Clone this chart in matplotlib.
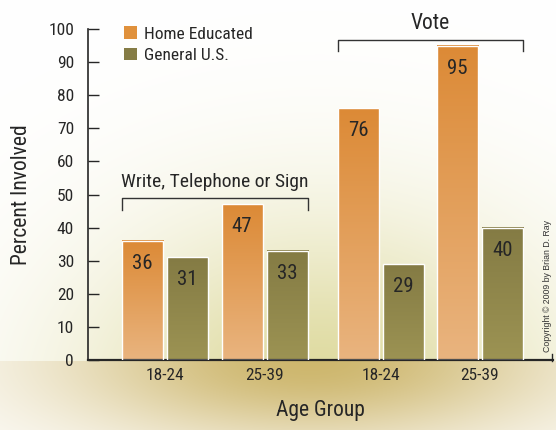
import numpy as np
import matplotlib
matplotlib.use('Agg')
import matplotlib.pyplot as plt
from matplotlib import font_manager as fm
from matplotlib.colors import to_rgb
from matplotlib.patches import Patch

# ---- data ----
group_names = ['Write, Telephone or Sign', 'Vote']
age_labels = ['18-24', '25-39', '18-24', '25-39']
home_educated = [36, 47, 76, 95]
general_us = [31, 33, 29, 40]
series_names = ['Home Educated', 'General U.S.']
yticks = [0, 10, 20, 30, 40, 50, 60, 70, 80, 90, 100]

# ---- pick a condensed font if one is installed ----
def pick_condensed():
    prefs = ['liberationsansnarrow-regular', 'robotocondensed-regular',
             'dejavusanscondensed.ttf', 'opensanscondensed']
    files = fm.fontManager.ttflist
    for p in prefs:
        for f in files:
            if p in f.fname.lower().replace(' ', '').replace('_', ''):
                return f.name, f.stretch
    for f in files:
        fn = f.fname.lower()
        if ('condensed' in fn or 'narrow' in fn) and 'bold' not in fn \
                and 'italic' not in fn and 'oblique' not in fn and 'light' not in fn:
            return f.name, f.stretch
    return 'DejaVu Sans', 'condensed'


fam, stretch = pick_condensed()
plt.rcParams['font.family'] = [fam, 'DejaVu Sans']
plt.rcParams['font.stretch'] = stretch
TXT = '#262626'

W, H = 556, 430
fig = plt.figure(figsize=(W / 100, H / 100), dpi=100)

# ---- background glow ----
bg = fig.add_axes([0, 0, 1, 1], zorder=-10)
yy, xx = np.mgrid[0:H, 0:W] + 0.5
white = np.array([1.0, 1.0, 1.0])
c_up = np.array(to_rgb('#DEDA9E'))
c_dn = np.array(to_rgb('#CDB66C'))
d_up = ((xx - 320) / 300) ** 2 + ((yy - 400) / 230) ** 2
t_up = np.clip(np.exp(-1.6 * d_up), 0, 1)
d_dn = ((xx - 310) / 290) ** 2 + ((yy - 362) / 95) ** 2
t_dn = np.clip(np.exp(-1.3 * d_dn), 0, 1)
img = np.empty((H, W, 3))
above = yy < 361
img[above] = white * (1 - t_up[above][:, None]) + c_up * t_up[above][:, None]
img[~above] = white * (1 - t_dn[~above][:, None]) + c_dn * t_dn[~above][:, None]
band = ~above
img[band] = img[band] * 0.97 + np.array(to_rgb('#E9DDB6')) * 0.03
bg.imshow(img, extent=[0, W, H, 0], aspect='auto', interpolation='bilinear')
bg.set_xlim(0, W)
bg.set_ylim(H, 0)
bg.axis('off')

# ---- main axes ----
ax = fig.add_axes([88 / W, (H - 360) / H, (553 - 88) / W, 331 / H])
ax.set_facecolor('none')
centers = np.array([0.0, 2.43, 5.27, 7.68])
off = 0.55
bw = 1.0

orange_top, orange_bot = '#DC8A36', '#E9B47F'
olive_top, olive_bot = '#847B44', '#9C9353'


def gradient_bars(xs, vals, ctop, cbot):
    bars = ax.bar(xs, vals, width=bw, facecolor='none', edgecolor='white',
                  linewidth=1.0, zorder=3)
    a = np.array(to_rgb(ctop))
    b = np.array(to_rgb(cbot))
    s = np.linspace(0, 1, 100)[:, None]
    grad = (a * (1 - s) + b * s)[:, None, :]  # row 0 = top colour
    for r in bars:
        x0 = r.get_x()
        ax.imshow(grad, extent=[x0, x0 + r.get_width(), 0, r.get_height()],
                  origin='upper', aspect='auto', zorder=2,
                  interpolation='bilinear')
    return bars


gradient_bars(centers - off, home_educated, orange_top, orange_bot)
gradient_bars(centers + off, general_us, olive_top, olive_bot)

for xs, vals in ((centers - off, home_educated), (centers + off, general_us)):
    for x, v in zip(xs, vals):
        ax.text(x, v - 6.8, str(v), ha='center', va='center', fontsize=15,
                color=TXT, zorder=5)

ax.set_xlim(-1.878, 9.463)
ax.set_ylim(0, 100)
ax.set_yticks(yticks)
ax.set_yticklabels([str(t) for t in yticks], fontsize=12.5, color=TXT)
ax.tick_params(axis='y', direction='in', length=8, width=1.0, color=TXT, pad=10)
ax.set_xticks(centers)
ax.set_xticklabels(age_labels, fontsize=12.5, color=TXT)
ax.tick_params(axis='x', length=0, pad=6)
for sp in ('top', 'right'):
    ax.spines[sp].set_visible(False)
ax.spines['left'].set_color(TXT)
ax.spines['bottom'].set_color(TXT)
ax.spines['left'].set_linewidth(1.2)
ax.spines['bottom'].set_linewidth(1.6)

# group brackets
grp_idx = [(0, 1), (2, 3)]
label_sizes = [14, 15.5]
for name, (i, j), fs in zip(group_names, grp_idx, label_sizes):
    top = max(home_educated[i], home_educated[j], general_us[i], general_us[j])
    yb = top + 1.8
    x0 = centers[i] - off - bw / 2
    x1 = centers[j] + off + bw / 2
    ax.plot([x0, x0, x1, x1], [yb - 3.5, yb, yb, yb - 3.5], color='#333333',
            lw=1.0, clip_on=False, zorder=4)
    ax.text((x0 + x1) / 2, yb + 5.0, name, ha='center', va='center',
            fontsize=fs, color=TXT, clip_on=False)

# legend
handles = [Patch(facecolor='#E0913C', edgecolor='none'),
           Patch(facecolor='#857C45', edgecolor='none')]
ax.legend(handles, series_names, loc='upper left',
          bbox_to_anchor=(112 / W, 1 - 14 / H), bbox_transform=fig.transFigure,
          frameon=False, fontsize=12.5, handlelength=0.75, handleheight=0.75,
          handletextpad=0.4, labelspacing=0.35, borderpad=0.2,
          labelcolor=TXT)

ax.set_ylabel('Percent Involved', fontsize=15.5, color=TXT, labelpad=12)
ax.set_xlabel('Age Group', fontsize=15.5, color=TXT, labelpad=12)

# right-end tick of x axis
fig.add_artist(plt.Line2D([552 / W, 552 / W], [(H - 354) / H, (H - 361) / H],
                          transform=fig.transFigure, color=TXT, lw=1.0))
fig.text(547 / W, (H - 352) / H, 'Copyright \u00a9 2009 by Brian D. Ray',
         rotation=90, ha='center', va='bottom', fontsize=6.3, color='#333333',
         family=['Liberation Sans', 'DejaVu Sans'], stretch='normal')

fig.savefig('out.png', dpi=100)
